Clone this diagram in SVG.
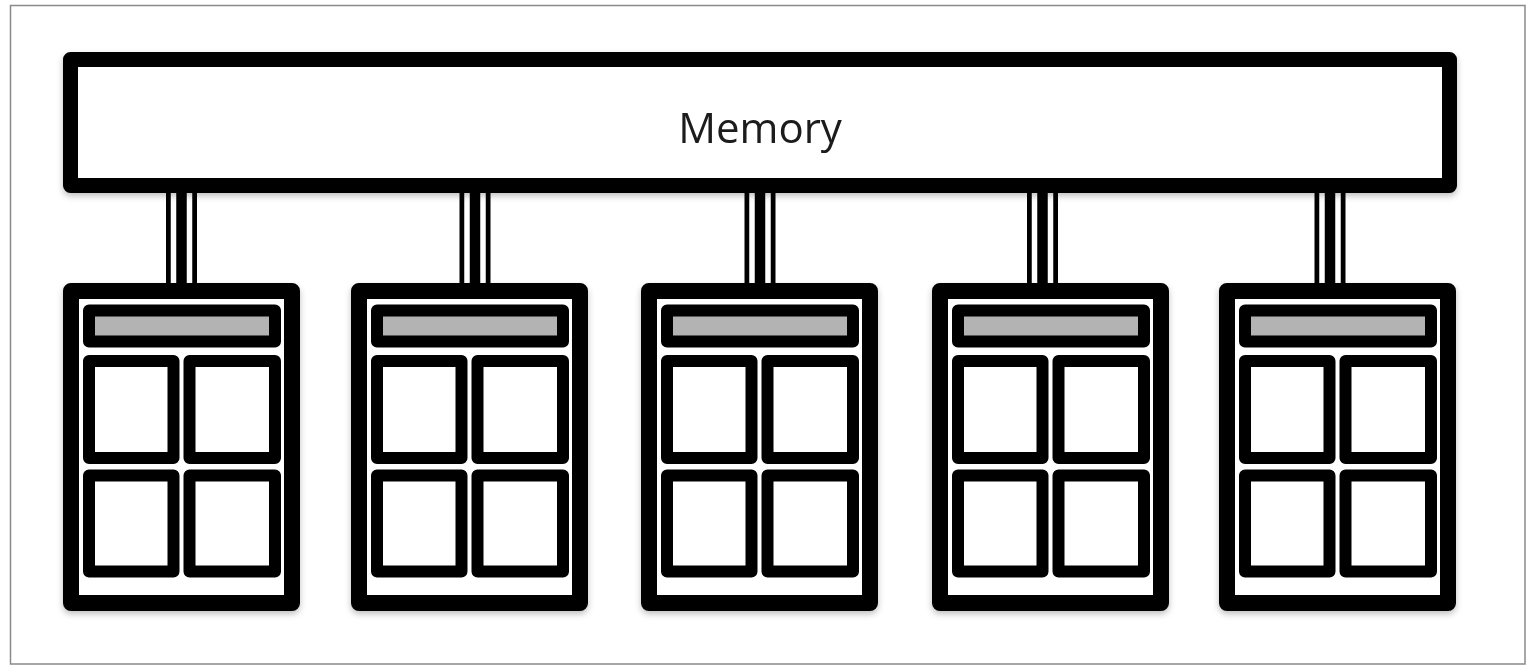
<svg xmlns="http://www.w3.org/2000/svg" width="1532" height="666" viewBox="0 0 1532 666">
<defs>
<style>
.frame{fill:#fff;stroke:#8a8a8a;stroke-width:1.5}
.box{fill:#fff;stroke:#000;stroke-width:16;stroke-linejoin:round}
.mem{fill:#fff;stroke:#000;stroke-width:15;stroke-linejoin:round}
.bar{fill:#b3b3b3;stroke:#000;stroke-width:12;stroke-linejoin:round}
.cell{fill:#fff;stroke:#000;stroke-width:12;stroke-linejoin:round}
.bus{stroke:#000;stroke-width:31}
.gap{stroke:#fff;stroke-width:5.5}
.lbl{font-family:"Open Sans","Liberation Sans",sans-serif;font-size:42px;fill:#1a1a1a}
</style>
<filter id="sh" x="-10%" y="-10%" width="120%" height="130%">
<feDropShadow dx="0" dy="3" stdDeviation="3" flood-color="#000" flood-opacity="0.25"/>
</filter>
<g id="cpu">
<rect class="box" x="8" y="8" width="221" height="312"/>
<rect class="bar" x="26" y="27.5" width="186" height="31"/>
<rect class="cell" x="26" y="78" width="84.5" height="97"/>
<rect class="cell" x="126.5" y="78" width="85.5" height="97"/>
<rect class="cell" x="26" y="192.5" width="84.5" height="96"/>
<rect class="cell" x="126.5" y="192.5" width="85.5" height="96"/>
</g>
</defs>
<rect class="frame" x="10.5" y="5.5" width="1514.5" height="658.5"/>
<g id="connectors">
<g><line class="bus" x1="181.5" y1="190" x2="181.5" y2="286"/><line class="gap" x1="173.5" y1="190" x2="173.5" y2="286"/><line class="gap" x1="189.5" y1="190" x2="189.5" y2="286"/></g>
<g><line class="bus" x1="475" y1="190" x2="475" y2="286"/><line class="gap" x1="467" y1="190" x2="467" y2="286"/><line class="gap" x1="483" y1="190" x2="483" y2="286"/></g>
<g><line class="bus" x1="760" y1="190" x2="760" y2="286"/><line class="gap" x1="752" y1="190" x2="752" y2="286"/><line class="gap" x1="768" y1="190" x2="768" y2="286"/></g>
<g><line class="bus" x1="1042.5" y1="190" x2="1042.5" y2="286"/><line class="gap" x1="1034.5" y1="190" x2="1034.5" y2="286"/><line class="gap" x1="1050.5" y1="190" x2="1050.5" y2="286"/></g>
<g><line class="bus" x1="1330" y1="190" x2="1330" y2="286"/><line class="gap" x1="1322" y1="190" x2="1322" y2="286"/><line class="gap" x1="1338" y1="190" x2="1338" y2="286"/></g>
</g>
<g id="memory" filter="url(#sh)">
<rect class="mem" x="70.5" y="59.5" width="1379" height="126"/>
<text class="lbl" x="760" y="143" text-anchor="middle">Memory</text>
</g>
<g id="node1" filter="url(#sh)"><use href="#cpu" x="63" y="283"/></g>
<g id="node2" filter="url(#sh)"><use href="#cpu" x="351" y="283"/></g>
<g id="node3" filter="url(#sh)"><use href="#cpu" x="641" y="283"/></g>
<g id="node4" filter="url(#sh)"><use href="#cpu" x="932" y="283"/></g>
<g id="node5" filter="url(#sh)"><use href="#cpu" x="1219" y="283"/></g>
</svg>
